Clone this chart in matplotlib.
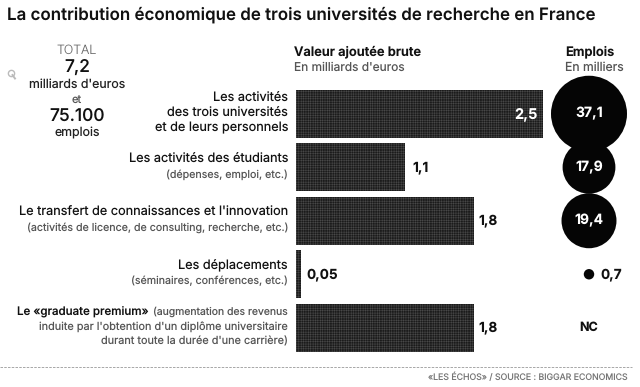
import matplotlib
matplotlib.use('Agg')
import matplotlib.pyplot as plt
import numpy as np

plt.rcParams['font.family'] = ['Inter', 'DejaVu Sans']
plt.rcParams['hatch.linewidth'] = 0.35
plt.rcParams['text.hinting'] = 'no_hinting'

W, H = 640, 387

# data
valeur = [2.5, 1.1, 1.8, 0.05, 1.8]
valeur_labels = ['2,5', '1,1', '1,8', '0,05', '1,8']
emplois = [37.1, 17.9, 19.4, 0.7]
emplois_labels = ['37,1', '17,9', '19,4', '0,7']
rows = [0, 1, 2, 3, 4]

DARK = '#111111'
GREY = '#555555'


def axes_px(x0, y0, x1, y1):
    # axes placed with pixel coordinates, y going down
    return fig.add_axes([x0 / W, 1 - y1 / H, (x1 - x0) / W, (y1 - y0) / H])


fig = plt.figure(figsize=(6.4, 3.87), dpi=100)

# overlay for the text, in pixels
bg = axes_px(0, 0, W, H)
bg.set_xlim(0, W)
bg.set_ylim(H, 0)
bg.axis('off')

# bars
ax = axes_px(296, 87, 543, 354.5)
ax.set_xlim(0, 2.5)
ax.set_ylim(4.5, -0.5)
ax.axis('off')
ax.barh(rows, valeur, height=0.89, color='#1b1b1b', edgecolor='#4a4a4a', hatch='+++++++', linewidth=0)
ax.text(valeur[0] - 0.05, 0, valeur_labels[0], color='white', ha='right', va='center', fontsize=10.5, fontweight='bold')
label_off = [0, 0.08, 0.05, 0.06, 0.05]
for i in rows[1:]:
    ax.text(valeur[i] + label_off[i], i, valeur_labels[i], color=DARK, ha='left', va='center', fontsize=9.8, fontweight='bold', clip_on=False)

# circles, area follows the value
ax2 = axes_px(540, 87, 640, 354.5)
ax2.set_xlim(0, 100)
ax2.set_ylim(4.5, -0.5)
ax2.axis('off')
sizes = [(2 * 6.24 * np.sqrt(v) * 0.72) ** 2 for v in emplois]
ax2.scatter([49] * 4, rows[:4], s=sizes, color='#050505', linewidths=0, clip_on=False, zorder=2)
for i in rows[:3]:
    ax2.text(49, i, emplois_labels[i], color='white', ha='center', va='center', fontsize=10, fontweight='bold', zorder=3)
ax2.text(60, 3, emplois_labels[3], color=DARK, ha='left', va='center', fontsize=9.8, fontweight='bold')
ax2.text(49, 4, 'NC', color=DARK, ha='center', va='center', fontsize=9, fontweight='bold')

# title
bg.text(7, 15, 'La contribution économique de trois universités de recherche en France',
        fontsize=12.2, fontweight='semibold', color='#111111', ha='left', va='center')

# column heads
bg.text(294, 52, 'Valeur ajoutée brute', fontsize=9.3, fontweight='semibold', color=DARK, va='center')
bg.text(294, 68, "En milliards d'euros", fontsize=8.6, color=GREY, va='center')
bg.text(565, 52, 'Emplois', fontsize=9.3, fontweight='semibold', color=DARK, va='center')
bg.text(565, 68, 'En milliers', fontsize=8.8, color=GREY, va='center')

# total block
bg.text(77, 50, 'TOTAL', fontsize=9, color='#666666', ha='center', va='center', fontweight='light')
bg.text(77, 67, '7,2', fontsize=12.5, color=DARK, ha='center', va='center', fontweight='medium')
bg.text(77, 84, "milliards d'euros", fontsize=8.9, color='#222222', ha='center', va='center')
bg.text(77, 100, 'et', fontsize=8, color=GREY, ha='center', va='center')
bg.text(77, 116, '75.100', fontsize=12.5, color=DARK, ha='center', va='center', fontweight='medium')
bg.text(77, 133, 'emplois', fontsize=8.9, color='#222222', ha='center', va='center')

# row labels
X = 288
lab = dict(ha='right', va='center', fontsize=9.15, color=DARK)
sub = dict(ha='right', va='center', fontsize=7.7, color=GREY)
sub2 = dict(ha='right', va='center', fontsize=7.85, color=GREY)
bg.text(X, 98, 'Les activités', **lab)
bg.text(X, 113, 'des trois universités', **lab)
bg.text(X, 128, 'et de leurs personnels', **lab)
bg.text(X, 159, 'Les activités des étudiants', **lab)
bg.text(X, 175, '(dépenses, emploi, etc.)', **sub)
bg.text(X, 212, "Le transfert de connaissances et l'innovation", **lab)
bg.text(X, 228, '(activités de licence, de consulting, recherche, etc.)', **sub)
bg.text(X, 266, 'Les déplacements', **lab)
bg.text(X, 281, '(séminaires, conférences, etc.)', **sub)
bg.text(X, 312, '(augmentation des revenus', ha='right', va='center', fontsize=7.5, color=GREY)
bg.text(149, 312, 'Le «graduate premium»', ha='right', va='center', fontsize=8.3, color=DARK, fontweight='medium')
bg.text(X, 327, "induite par l'obtention d'un diplôme universitaire", **sub2)
bg.text(X, 342, "durant toute la durée d'une carrière)", **sub2)

# loupe icon
bg.plot([10.5], [72.5], marker='o', ms=4.5, mfc='none', mec='#bbbbbb', mew=1)
bg.plot([12.5, 15], [75, 78.5], color='#bbbbbb', lw=1.4)

# footer
bg.plot([0, 632], [367, 367], color='#999999', lw=0.6, ls=(0, (3, 1.5)))
bg.text(628, 377.5, '«LES ÉCHOS» / SOURCE : BIGGAR ECONOMICS', fontsize=6.3, color='#777777', ha='right', va='center')

fig.savefig('out.png', dpi=100)
